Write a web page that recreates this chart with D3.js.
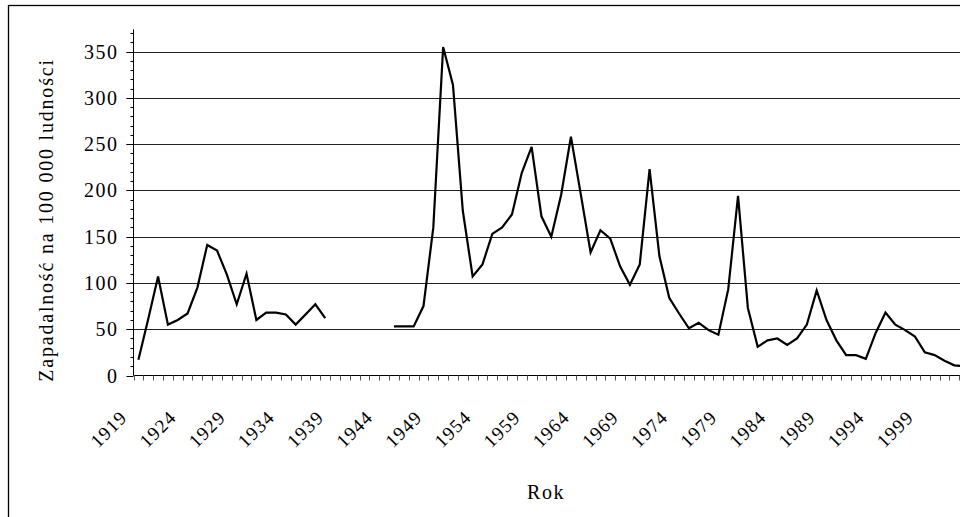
<!DOCTYPE html>
<html>
<head>
<meta charset="utf-8">
<script src="https://cdn.jsdelivr.net/npm/d3@7"></script>
<style>
  body { margin: 0; background: #fff; }
  svg { display: block; }
  text { font-family: "Liberation Serif", "Times New Roman", serif; fill: #000; }
</style>
</head>
<body>
<script>
// lata i zapadalność (brak danych 1939-1944)
var years = d3.range(1919, 2005);
var values = [
  17, 61, 107, 55, 60, 67, 95, 141, 135, 109,   // 1919-1928
  77, 110, 60, 68, 68, 66, 55, 66, 77, 62,      // 1929-1938
  null, null, null, null, null, null,           // 1939-1944
  53, 53, 53, 75, 160, 355, 314, 178, 107, 120, // 1945-1954
  153, 160, 174, 219, 247, 172, 150, 195, 258, 196, // 1955-1964
  133, 157, 148, 118, 98, 120, 223, 129, 84, 67,    // 1965-1974
  51, 57, 49, 44, 93, 194, 73, 31, 38, 40,      // 1975-1984
  33, 40, 55, 92, 60, 38, 22, 22, 18, 46,       // 1985-1994
  68, 55, 49, 42, 25, 22, 16, 11, 10, 10        // 1995-2004
];
var yTicks = [0, 50, 100, 150, 200, 250, 300, 350];
var xLabelYears = d3.range(1919, 2000, 5);

var width = 960, height = 517;
var x0 = 133.5, step = 9.83;
var y0 = 375.5;

var svg = d3.select("body").append("svg")
    .attr("width", width)
    .attr("height", height);

// ramka wykresu (ucięta z prawej i u dołu)
svg.append("rect")
    .attr("x", 8.5).attr("y", 5.5)
    .attr("width", 1000).attr("height", 600)
    .attr("fill", "none").attr("stroke", "#000").attr("stroke-width", 1.3);

var x = d3.scaleBand()
    .domain(years)
    .range([x0, x0 + step * years.length])
    .padding(0);

var y = d3.scaleLinear()
    .domain([0, 350])
    .range([y0, 51.6]);

// siatka
svg.append("g").selectAll("line")
    .data(yTicks.filter(function(d){ return d > 0; }))
    .enter().append("line")
    .attr("x1", x0 - 7).attr("x2", width)
    .attr("y1", function(d){ return Math.round(y(d)) + 0.5; })
    .attr("y2", function(d){ return Math.round(y(d)) + 0.5; })
    .attr("stroke", "#222").attr("stroke-width", 1);

// oś Y
var yAxis = svg.append("g").attr("transform", "translate(" + x0 + ",0)");
yAxis.append("line")
    .attr("x1", 0).attr("x2", 0)
    .attr("y1", y(374)).attr("y2", y0)
    .attr("stroke", "#000");
yAxis.selectAll(".minor")
    .data(d3.range(0, 371, 10))
    .enter().append("line")
    .attr("x1", function(d){ return d % 50 === 0 ? -7 : -3; }).attr("x2", 0)
    .attr("y1", function(d){ return Math.round(y(d)) + 0.5; })
    .attr("y2", function(d){ return Math.round(y(d)) + 0.5; })
    .attr("stroke", "#000");
yAxis.selectAll(".ylab")
    .data(yTicks)
    .enter().append("text")
    .attr("x", -15)
    .attr("y", function(d){ return y(d); })
    .attr("dy", "0.35em")
    .attr("text-anchor", "end")
    .style("font-size", "20px")
    .style("letter-spacing", "1.5px")
    .text(function(d){ return d; });

// oś X
var xAxis = svg.append("g");
xAxis.append("line")
    .attr("x1", x0).attr("x2", width)
    .attr("y1", y0).attr("y2", y0)
    .attr("stroke", "#000").attr("stroke-width", 1.2);
xAxis.selectAll(".xt")
    .data(years)
    .enter().append("line")
    .attr("x1", function(d){ return Math.round(x(d)) + 0.5; })
    .attr("x2", function(d){ return Math.round(x(d)) + 0.5; })
    .attr("y1", y0).attr("y2", y0 + 5)
    .attr("stroke", "#555");
xAxis.selectAll(".xlab")
    .data(xLabelYears)
    .enter().append("text")
    .attr("transform", function(d){
        return "translate(" + (x(d) + x.bandwidth() / 2 - 10) + "," + (y0 + 43) + ") rotate(-45)";
    })
    .attr("text-anchor", "end")
    .style("font-size", "19px")
    .style("letter-spacing", "1.2px")
    .text(function(d){ return d; });

// linia
var line = d3.line()
    .defined(function(d){ return d.v !== null; })
    .x(function(d){ return x(d.year) + x.bandwidth() / 2; })
    .y(function(d){ return y(d.v); });

var data = years.map(function(yr, i){ return {year: yr, v: values[i]}; });

svg.append("path")
    .datum(data)
    .attr("d", line)
    .attr("fill", "none")
    .attr("stroke", "#000")
    .attr("stroke-width", 2.2)
    .attr("stroke-linejoin", "miter");

// tytuły osi
svg.append("text")
    .attr("x", 546).attr("y", 499)
    .attr("text-anchor", "middle")
    .style("font-size", "20px")
    .style("letter-spacing", "1.5px")
    .text("Rok");

svg.append("text")
    .attr("transform", "translate(53,220) rotate(-90)")
    .attr("text-anchor", "middle")
    .style("font-size", "20px")
    .style("letter-spacing", "1.8px")
    .text("Zapadalność na 100 000 ludności");
</script>
</body>
</html>
